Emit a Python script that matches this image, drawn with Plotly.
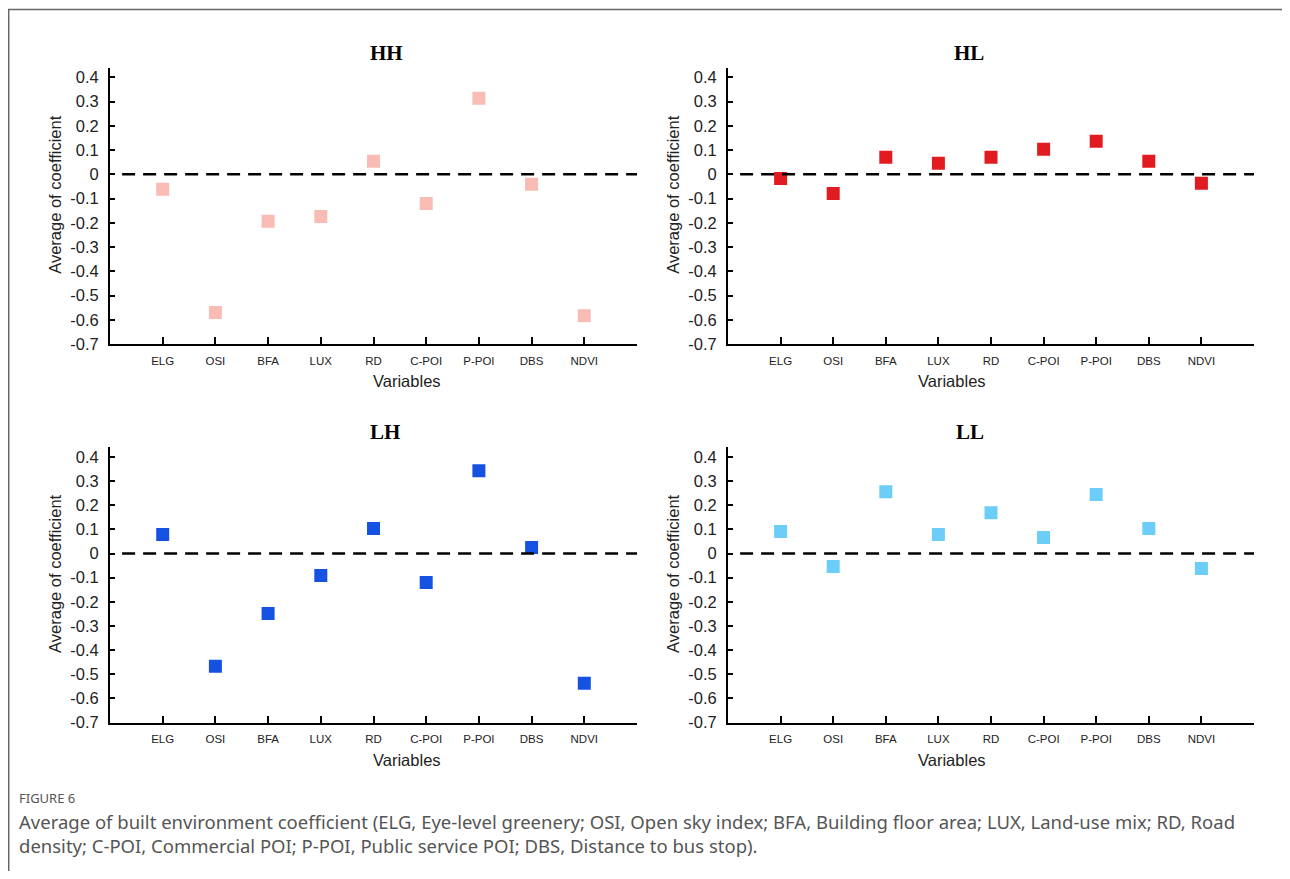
import plotly.graph_objects as go

variables = ["ELG", "OSI", "BFA", "LUX", "RD", "C-POI", "P-POI", "DBS", "NDVI"]
hh = [-0.062, -0.570, -0.194, -0.174, 0.054, -0.120, 0.314, -0.041, -0.583]
hl = [-0.017, -0.079, 0.070, 0.045, 0.070, 0.103, 0.136, 0.054, -0.037]
lh = [0.079, -0.467, -0.248, -0.091, 0.103, -0.120, 0.343, 0.025, -0.537]
ll = [0.091, -0.054, 0.256, 0.079, 0.169, 0.066, 0.244, 0.103, -0.062]
y_ticks = [0.4, 0.3, 0.2, 0.1, 0, -0.1, -0.2, -0.3, -0.4, -0.5, -0.6, -0.7]
y_ticklabels = ["0.4", "0.3", "0.2", "0.1", "0", "-0.1", "-0.2", "-0.3", "-0.4", "-0.5", "-0.6", "-0.7"]

# page is offset by the 8px body margin; figure kept inside the viewport
OFF = 8
W, H = 1290 - 2 * OFF, 879 - 2 * OFF
VS = 0.988  # observed vertical scale of the capture


def px(x):
    return (x - OFF) / W


def fy(y):
    return (y - 8.5) / VS


def py(y):
    return 1 - fy(y) / H


def dy(d):
    return d / VS / H


panels = [
    ("HH", hh, "#F9BCB4", [px(110), px(637)], [py(344), py(68)]),
    ("HL", hl, "#E11B1F", [px(728), px(1254)], [py(344), py(68)]),
    ("LH", lh, "#1652E2", [px(110), px(637)], [py(722), py(447)]),
    ("LL", ll, "#6DCDF9", [px(728), px(1254)], [py(722), py(447)]),
]

fig = go.Figure()
annotations = []
shapes = []
xpos = list(range(1, len(variables) + 1))

for i, (name, vals, color, xd, yd) in enumerate(panels):
    k = "" if i == 0 else str(i + 1)
    xa, ya = "x" + k, "y" + k
    fig.add_trace(go.Scatter(
        x=xpos, y=vals, mode="markers", xaxis=xa, yaxis=ya,
        marker=dict(symbol="square", size=13, color=color),
        showlegend=False, name=name, hoverinfo="x+y",
    ))
    axis_common = dict(showline=True, linecolor="black", linewidth=2,
                       showgrid=False, zeroline=False, ticks="inside",
                       tickcolor="black", tickwidth=1.5)
    fig.layout["xaxis" + k] = dict(
        domain=xd, anchor=ya, range=[0, 10], tickvals=xpos, ticktext=variables,
        ticklen=7, ticklabelstandoff=5,
        tickfont=dict(family="Liberation Sans", size=11.5, color="#222"),
        **axis_common)
    fig.layout["yaxis" + k] = dict(
        domain=yd, anchor=xa, range=[-0.7, 0.44], tickvals=y_ticks, ticktext=y_ticklabels,
        ticklen=5, ticklabelstandoff=6,
        tickfont=dict(family="Liberation Sans", size=16.5, color="#222"),
        **axis_common)
    # zero reference line
    shapes.append(dict(type="line", xref=xa + " domain", yref=ya, x0=0.023, x1=1, y0=0, y1=0,
                       line=dict(color="black", width=2.5, dash="13px,8px")))
    xc = (xd[0] + xd[1]) / 2
    # panel title
    annotations.append(dict(text="<b>" + name + "</b>", xref="paper", yref="paper",
                            x=xc - 0.004, y=yd[1] + dy(15), yanchor="middle",
                            showarrow=False, font=dict(family="Liberation Serif", size=21, color="black")))
    # axis titles
    annotations.append(dict(text="Variables", xref="paper", yref="paper",
                            x=xc - 0.002, y=yd[0] - dy(37), yanchor="middle",
                            showarrow=False, font=dict(family="Liberation Sans", size=16.5, color="#222")))
    annotations.append(dict(text="Average of coefficient", xref="paper", yref="paper",
                            x=xd[0] - 55 / W, y=(yd[0] + yd[1]) / 2 + dy(11),
                            xanchor="center", yanchor="middle",
                            textangle=-90, showarrow=False,
                            font=dict(family="Liberation Sans", size=16.5, color="#222")))

annotations.append(dict(text="FIGURE 6", xref="paper", yref="paper", x=px(17), y=py(797),
                        xanchor="left", yanchor="middle", showarrow=False,
                        font=dict(family="Noto Sans", size=13, color="#555")))
annotations.append(dict(
    text="Average of built environment coefficient (ELG, Eye-level greenery; OSI, Open sky index; BFA, Building floor area; LUX, Land-use mix; RD, Road<br>"
         "density; C-POI, Commercial POI; P-POI, Public service POI; DBS, Distance to bus stop).",
    xref="paper", yref="paper", x=px(17), y=py(833), xanchor="left", yanchor="middle",
    align="left", showarrow=False, font=dict(family="Noto Sans", size=18.5, color="#555")))

shapes.append(dict(type="rect", xref="paper", yref="paper", x0=px(8.7), x1=1.02, y0=-0.02, y1=py(10),
                   line=dict(color="#666", width=1.5)))

fig.update_layout(width=W, height=H, margin=dict(l=0, r=0, t=0, b=0),
                  paper_bgcolor="white", plot_bgcolor="white",
                  annotations=annotations, shapes=shapes)
fig.write_html("out.html")
